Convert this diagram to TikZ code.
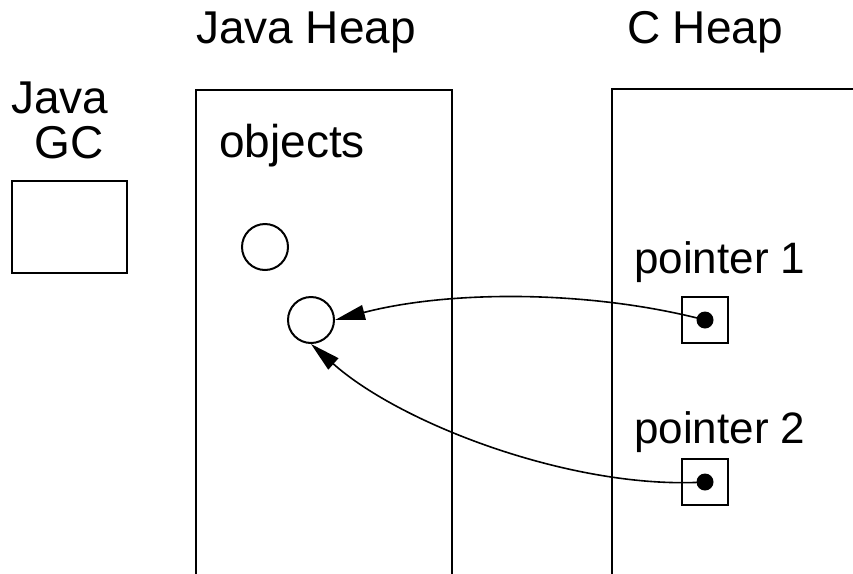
\documentclass[tikz,border=0pt]{standalone}
\usepackage{fontspec}
\setmainfont{Liberation Sans}
\usetikzlibrary{arrows.meta}
\begin{document}
\begin{tikzpicture}[x=1pt,y=-1pt,
  line/.style={line width=2pt},
  lbl/.style={font=\fontsize{46}{52}\selectfont, anchor=base, inner sep=0pt},
  ptrlbl/.style={font=\fontsize{44}{50}\selectfont, anchor=base west, inner sep=0pt},
  obj/.style={circle, draw, line width=2pt, minimum size=46pt, inner sep=0pt},
  ptrbox/.style={draw, line width=2pt, minimum size=46pt, inner sep=0pt},
  ptrdot/.style={circle, fill, minimum size=17pt, inner sep=0pt},
  ref/.style={line width=1.6pt, -{Triangle[length=30pt,width=15pt]}}]
\useasboundingbox (0,0) rectangle (853,573);

% heading labels
\node[lbl] (jh) at (306,43) {Java Heap};
\node[lbl] (ch) at (705,43) {C Heap};
\node[lbl] (jgc1) at (60,113) {Java};
\node[lbl] (jgc2) at (69,158) {GC};

% garbage collector box
\node[draw, line width=2pt, minimum width=115pt, minimum height=92pt, inner sep=0pt] (gc) at (69.5,227) {};

% Java heap (open at the bottom)
\draw[line] (196,575) -- (196,90) -- (452,90) -- (452,575);
\node[lbl, anchor=base west] (objs) at (219,157) {objects};
\node[obj] (o1) at (265,247) {};
\node[obj] (o2) at (311,320) {};

% C heap (runs off the right and bottom edges)
\draw[line] (612,575) -- (612,89) -- (855,89);
\node[ptrlbl] (p1) at (634,273) {pointer 1};
\node[ptrlbl] (p2) at (634,443) {pointer 2};
\node[ptrbox] (b1) at (705,320) {};
\node[ptrdot] (d1) at (705,320) {};
\node[ptrbox] (b2) at (705,481.5) {};
\node[ptrdot] (d2) at (705,482) {};

% references from the C heap into the Java heap
\draw[ref] (d1.center) .. controls (590,290) and (450,290) .. (o2.east);
\draw[ref] (d2.center) .. controls (575,490) and (402,425) .. (o2.south);
\end{tikzpicture}
\end{document}
